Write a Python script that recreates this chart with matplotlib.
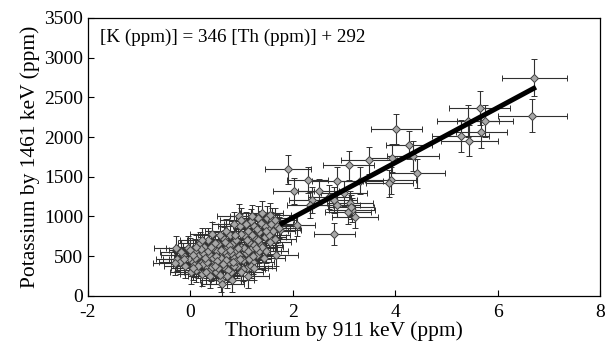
import matplotlib
matplotlib.use("Agg")
import matplotlib.pyplot as plt

# outlying samples (Th ppm, K ppm, errors)
out_th = [6.72, 6.68, 5.65, 5.42, 5.75, 5.28, 5.68, 5.45, 4.02, 4.27, 3.94, 4.35,
          3.49, 4.43, 3.91, 3.89, 3.09, 3.32, 2.87, 1.90, 2.29, 2.02, 2.51, 2.38,
          2.34, 3.00, 2.81, 2.87, 3.12, 3.15, 3.08, 3.21, 3.13, 2.81, 2.08, 2.70, 1.74]
out_k = [2747, 2268, 2364, 2205, 2205, 2010, 2060, 1956, 2101, 1898, 1735, 1756,
         1706, 1544, 1456, 1415, 1644, 1448, 1448, 1594, 1457, 1319, 1315, 1207,
         1144, 1290, 1207, 1149, 1165, 1082, 1053, 999, 1115, 782, 886, 1240, 857]
out_th_err = [0.64, 0.67, 0.60, 0.60, 0.55, 0.55, 0.50, 0.55, 0.50, 0.45, 0.45, 0.50,
              0.55, 0.55, 0.50, 0.45, 0.50, 0.45, 0.50, 0.45, 0.40, 0.40, 0.40, 0.45,
              0.45, 0.45, 0.45, 0.45, 0.45, 0.45, 0.45, 0.45, 0.45, 0.40, 0.35, 0.40, 0.40]
out_k_err = [230, 210, 210, 200, 200, 200, 200, 200, 190, 180, 180, 190,
             170, 180, 170, 170, 180, 170, 170, 180, 160, 160, 160, 160,
             160, 160, 160, 160, 160, 150, 150, 150, 150, 140, 130, 150, 130]

# dense low-level cluster
cl_th = [-0.28, -0.25, -0.2, -0.15, -0.1, -0.05, 0.0, 0.02, 0.05, 0.08, 0.1, 0.12, 0.15,
         0.18, 0.2, 0.22, 0.25, 0.27, 0.3, 0.32, 0.35, 0.38, 0.4, 0.42, 0.45, 0.47, 0.5,
         0.52, 0.55, 0.57, 0.6, 0.6, 0.62, 0.65, 0.68, 0.7, 0.72, 0.75, 0.78, 0.8, 0.82,
         0.85, 0.88, 0.9, 0.92, 0.95, 0.97, 1.0, 1.02, 1.05, 1.08, 1.1, 1.12, 1.15, 1.18,
         1.2, 1.22, 1.25, 1.28, 1.3, 1.32, 1.35, 1.38, 1.4, 1.42, 1.45, 1.48, 1.5, 1.52,
         1.55, 1.6, 1.62, 1.65, 1.68, 1.7, 0.1, 0.25, 0.35, 0.45, 0.55, 0.65, 0.75, 0.85,
         0.95, 1.05, 1.15, 1.25, 1.35, 1.45, 0.3, 0.4, 0.5, 0.6, 0.7, 0.8, 0.9, 1.0, 1.1,
         1.2, 1.3, 1.4, 0.15, 0.2, 0.33, 0.43, 0.53, 0.63, 0.73, 0.83, 0.93, 1.03, 1.13,
         1.23, 1.33, 1.43, 1.53, 0.05, -0.12, 0.28, 0.48, 0.58, 0.68, 0.78, 0.88, 0.98,
         1.08, 1.18, 1.28, 1.38, 1.48, 1.58, 0.38, 0.48, 0.72, 0.82, 1.0, 1.12, 1.25,
         0.58, 0.7, 0.85, 1.0, 1.2, -0.3, -0.18, 0.0, 0.12, 0.22, 0.05, 1.65, 1.55, 1.75]
cl_k = [600, 460, 430, 520, 380, 600, 470, 300, 420, 390, 560, 330, 500,
        660, 410, 280, 540, 620, 380, 460, 700, 520, 340, 780, 600, 430, 300,
        560, 650, 390, 480, 200, 150, 720, 350, 600, 520, 420, 760, 300, 650,
        480, 560, 700, 380, 1010, 880, 620, 450, 760, 540, 350, 820, 680, 940,
        600, 420, 880, 720, 520, 980, 800, 640, 1040, 900, 740, 560, 980, 860,
        680, 950, 820, 720, 520, 880, 480, 400, 560, 480, 350, 560, 640, 380,
        520, 600, 460, 640, 560, 880, 300, 620, 500, 580, 450, 540, 440, 780, 700,
        760, 840, 620, 380, 590, 420, 360, 440, 400, 330, 420, 600, 340, 560,
        500, 700, 480, 760, 350, 470, 480, 660, 260, 680, 580, 760, 460,
        900, 380, 600, 920, 820, 900, 250, 380, 250, 200, 300, 250, 350,
        760, 820, 900, 950, 1000, 410, 550, 580, 620, 700, 520, 960, 1020, 830]
cl_th_err = 0.42
cl_k_err = 150

# linear fit  [K] = 346 [Th] + 292
slope = 346
intercept = 292
fit_th = [1.75, 6.75]

plt.rcParams["font.family"] = ["Liberation Serif", "DejaVu Serif"]
plt.rcParams["axes.unicode_minus"] = False

fig = plt.figure(figsize=(6.06, 3.44), dpi=100)
ax = fig.add_axes([0.145, 0.14, 0.845, 0.808])

style = dict(fmt="D", ms=4, mfc="#a8a8a8", mec="#404040", mew=0.7,
             ecolor="#303030", elinewidth=0.8, capsize=2, capthick=0.8, zorder=2)
ax.errorbar(cl_th, cl_k, xerr=cl_th_err, yerr=cl_k_err, **style)
ax.errorbar(out_th, out_k, xerr=out_th_err, yerr=out_k_err, **style)

fit_k = [slope * t + intercept for t in fit_th]
ax.plot(fit_th, fit_k, color="black", lw=3.6, zorder=3, solid_capstyle="butt")

ax.text(0.024, 0.962, "[K (ppm)] = %d [Th (ppm)] + %d" % (slope, intercept),
        transform=ax.transAxes, fontsize=13.8, va="top", ha="left")

ax.set_xlim(-2, 8)
ax.set_ylim(0, 3500)
ax.set_xticks([-2, 0, 2, 4, 6, 8])
ax.set_yticks(range(0, 3501, 500))
ax.tick_params(direction="in", length=4, labelsize=14, width=0.8)
ax.tick_params(axis="x", pad=6)
ax.set_xlabel("Thorium by 911 keV (ppm)", fontsize=15.5, labelpad=0)
ax.set_ylabel("Potassium by 1461 keV (ppm)", fontsize=15.5, labelpad=3)
for s in ax.spines.values():
    s.set_linewidth(0.9)

fig.savefig("out.png", dpi=100)
